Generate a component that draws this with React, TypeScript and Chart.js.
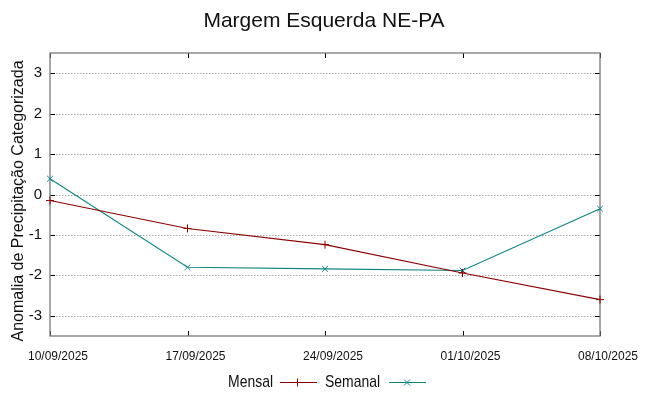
import React, { useEffect, useRef } from "react";
import { Chart, registerables } from "chart.js";

Chart.register(...registerables);

const title = "Margem Esquerda NE-PA";
const yTitle = "Anomalia de Precipitação Categorizada";
const categories = ["10/09/2025", "17/09/2025", "24/09/2025", "01/10/2025", "08/10/2025"];
const mensal = [-0.15, -0.84, -1.24, -1.94, -2.6];
const semanal = [0.39, -1.8, -1.84, -1.88, -0.35];
const yTicks = [-3, -2, -1, 0, 1, 2, 3];
const seriesNames = ["Mensal", "Semanal"];

const RED = "#8b0000";
const TEAL = "#0e8585";
const FONT = "'Liberation Sans', Arial, sans-serif";

const framePlugin = {
  id: "frame",
  beforeDatasetsDraw(chart: any) {
    const { ctx, chartArea } = chart;
    const { left, right, top, bottom } = chartArea;
    const y = chart.scales.y;
    const x = chart.scales.x;
    ctx.save();
    ctx.strokeStyle = "#a8a8a8";
    ctx.lineWidth = 1;
    ctx.setLineDash([1.5, 1.5]);
    y.ticks.forEach((t: any) => {
      const py = Math.round(y.getPixelForValue(t.value)) + 0.5;
      ctx.beginPath();
      ctx.moveTo(left, py);
      ctx.lineTo(right, py);
      ctx.stroke();
    });
    ctx.setLineDash([]);
    ctx.strokeStyle = "#000";
    ctx.lineWidth = 1;
    y.ticks.forEach((t: any) => {
      const py = Math.round(y.getPixelForValue(t.value)) + 0.5;
      ctx.beginPath();
      ctx.moveTo(left, py);
      ctx.lineTo(left + 5, py);
      ctx.moveTo(right, py);
      ctx.lineTo(right - 5, py);
      ctx.stroke();
    });
    categories.forEach((_, i) => {
      const px = Math.round(x.getPixelForValue(i)) + 0.5;
      ctx.beginPath();
      ctx.moveTo(px, bottom);
      ctx.lineTo(px, bottom - 5);
      ctx.moveTo(px, top);
      ctx.lineTo(px, top + 5);
      ctx.stroke();
    });
    ctx.strokeStyle = "#7a7a7a";
    ctx.lineWidth = 1.3;
    ctx.strokeRect(left, top, right - left, bottom - top);
    ctx.restore();
  },
  afterDraw(chart: any) {
    const { ctx } = chart;
    ctx.save();
    ctx.fillStyle = "#111";
    ctx.font = `21px ${FONT}`;
    ctx.textAlign = "center";
    ctx.textBaseline = "alphabetic";
    ctx.fillText(title, 324, 27);
    ctx.save();
    ctx.translate(19, 201);
    ctx.rotate(-Math.PI / 2);
    ctx.font = `16px ${FONT}`;
    ctx.textAlign = "center";
    ctx.textBaseline = "middle";
    ctx.fillText(yTitle, 0, 0);
    ctx.restore();
    const ly = 382.5;
    const sx = 0.82;
    ctx.save();
    ctx.scale(sx, 1);
    ctx.font = `17px ${FONT}`;
    ctx.textAlign = "right";
    ctx.textBaseline = "middle";
    ctx.fillText(seriesNames[0], 273 / sx, ly);
    ctx.fillText(seriesNames[1], 380 / sx, ly);
    ctx.restore();
    ctx.lineWidth = 1;
    ctx.strokeStyle = RED;
    ctx.beginPath();
    ctx.moveTo(280, ly);
    ctx.lineTo(317, ly);
    ctx.moveTo(297.5, ly - 4);
    ctx.lineTo(297.5, ly + 4);
    ctx.stroke();
    ctx.strokeStyle = TEAL;
    ctx.beginPath();
    ctx.moveTo(389, ly);
    ctx.lineTo(426, ly);
    ctx.moveTo(404, ly - 3);
    ctx.lineTo(410, ly + 3);
    ctx.moveTo(404, ly + 3);
    ctx.lineTo(410, ly - 3);
    ctx.stroke();
    ctx.restore();
  },
};

export default function App() {
  const ref = useRef<HTMLCanvasElement>(null);
  useEffect(() => {
    if (!ref.current) return;
    const chart = new Chart(ref.current, {
      type: "line",
      data: {
        labels: categories,
        datasets: [
          {
            label: seriesNames[0],
            data: mensal,
            borderColor: RED,
            backgroundColor: RED,
            borderWidth: 1.1,
            pointStyle: "cross",
            pointRadius: 4,
            pointBorderWidth: 1,
            fill: false,
            tension: 0,
          },
          {
            label: seriesNames[1],
            data: semanal,
            borderColor: TEAL,
            backgroundColor: TEAL,
            borderWidth: 1.1,
            pointStyle: "crossRot",
            pointRadius: 4,
            pointBorderWidth: 1,
            fill: false,
            tension: 0,
          },
        ],
      },
      options: {
        responsive: true,
        maintainAspectRatio: false,
        animation: false,
        layout: { padding: { top: 53, right: 48, left: 0, bottom: 0 } },
        plugins: {
          legend: { display: false },
          title: { display: false },
          tooltip: { enabled: false },
        },
        scales: {
          x: {
            type: "category",
            offset: false,
            grid: { display: false, drawTicks: false },
            border: { display: false },
            ticks: {
              autoSkip: false,
              maxRotation: 0,
              padding: 13,
              labelOffset: 8,
              color: "#111",
              font: { family: FONT, size: 12 },
            },
            afterFit: (s: any) => {
              s.height = 60;
            },
          },
          y: {
            min: -3.5,
            max: 3.5,
            grid: { display: false, drawTicks: false },
            border: { display: false },
            ticks: {
              padding: 8,
              color: "#111",
              font: { family: FONT, size: 15 },
            },
            afterBuildTicks: (s: any) => {
              s.ticks = yTicks.map((v) => ({ value: v }));
            },
            afterFit: (s: any) => {
              s.width = 50;
            },
          },
        },
      },
      plugins: [framePlugin],
    });
    return () => chart.destroy();
  }, []);
  return (
    <div style={{ position: "absolute", left: 0, top: 0, width: 648, height: 396, background: "#fff" }}>
      <canvas ref={ref} />
    </div>
  );
}
